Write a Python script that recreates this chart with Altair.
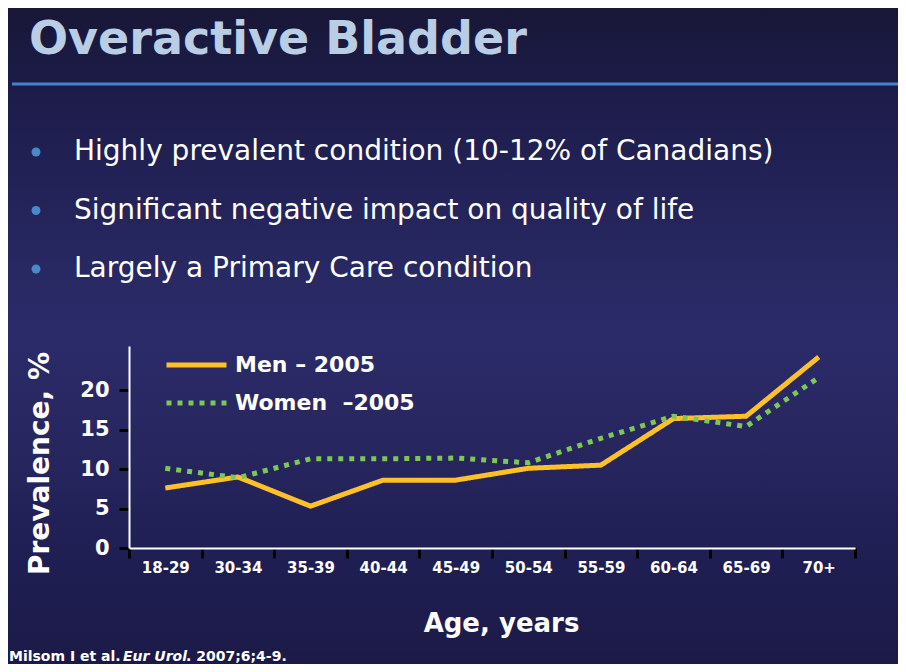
import altair as alt
import pandas as pd

# ---------------- data ----------------
ages = ["18-29", "30-34", "35-39", "40-44", "45-49", "50-54", "55-59", "60-64", "65-69", "70+"]
men = [7.6, 9.0, 5.3, 8.6, 8.6, 10.1, 10.5, 16.4, 16.7, 24.2]
women = [10.1, 8.9, 11.3, 11.3, 11.4, 10.8, 13.9, 16.7, 15.4, 21.6]
series = ["Men \u2013 2005", "Women\u00a0 \u20132005"]
series_colors = ["#FFC028", "#7DC855"]
series_dash = [[1, 0], [5, 6]]
y_ticks = [0, 5, 10, 15, 20]

slide_title = "Overactive Bladder"
bullets = [
    "Highly prevalent condition (10-12% of Canadians)",
    "Significant negative impact on quality of life",
    "Largely a Primary Care condition",
]
cite_parts = ["Milsom I et al. ", "Eur Urol", ". 2007;6;4-9."]

df = pd.DataFrame(
    {
        "age": ages * 2,
        "value": men + women,
        "series": [series[0]] * len(ages) + [series[1]] * len(ages),
    }
)

FONT = "DejaVu Sans"

# ---------------- background gradient (slide) ----------------
bg_gradient = {
    "gradient": "linear",
    "x1": 0, "y1": 0, "x2": 0, "y2": 1,
    "stops": [
        {"offset": 0.0, "color": "#181737"},
        {"offset": 0.14, "color": "#1d1c4b"},
        {"offset": 0.35, "color": "#26265e"},
        {"offset": 0.50, "color": "#2b2b6a"},
        {"offset": 0.66, "color": "#27265f"},
        {"offset": 0.85, "color": "#1f1e52"},
        {"offset": 1.0, "color": "#1b1a47"},
    ],
}
bg_layer = (
    alt.Chart(pd.DataFrame({"k": [0]}))
    .mark_rect(color=bg_gradient, strokeWidth=0)
    .encode(x=alt.value(-121), x2=alt.value(769), y=alt.value(-338), y2=alt.value(318))
)

# ---------------- main line chart ----------------
lines = (
    alt.Chart(df)
    .mark_line(strokeWidth=5, strokeCap="butt", strokeJoin="miter")
    .encode(
        x=alt.X(
            "age:N",
            sort=ages,
            scale=alt.Scale(type="band", paddingInner=0, paddingOuter=0),
            axis=alt.Axis(
                title="Age, years",
                labelAngle=0,
                tickBand="extent",
                zindex=2,
                titleX=372,
                titleY=75,
                titleBaseline="middle",
                titleAlign="center",
                titleFontSize=26,
                labelFontSize=15,
                labelPadding=2,
            ),
        ),
        y=alt.Y(
            "value:Q",
            scale=alt.Scale(domain=[0, 25.6], nice=False, zero=True),
            axis=alt.Axis(
                title="Prevalence,  %",
                values=y_ticks,
                zindex=2,
                titleAngle=270,
                titleX=-89,
                titleY=117,
                titleAlign="center",
                titleBaseline="middle",
                titleFontSize=28,
                labelFontSize=21,
                labelPadding=10,
            ),
        ),
        color=alt.Color(
            "series:N",
            sort=series,
            scale=alt.Scale(domain=series, range=series_colors),
            legend=alt.Legend(
                title=None,
                orient="none",
                legendX=35,
                legendY=4,
                symbolType="stroke",
                symbolSize=3600,
                symbolStrokeWidth=5,
                labelFontSize=22,
                labelFont=FONT,
                labelFontWeight="bold",
                labelColor="white",
                labelOffset=6,
                clipHeight=30,
                rowPadding=8,
                labelLimit=400,
            ),
        ),
        strokeDash=alt.StrokeDash(
            "series:N",
            sort=series,
            scale=alt.Scale(domain=series, range=series_dash),
            legend=alt.Legend(title=None),
        ),
    )
)

# ---------------- slide decorations ----------------
title_layer = (
    alt.Chart(pd.DataFrame({"t": [slide_title]}))
    .mark_text(align="left", baseline="alphabetic", font=FONT, fontSize=46,
               fontWeight="bold", color="#B9CDE5")
    .encode(x=alt.value(-100), y=alt.value(-292), text="t:N")
)

rule_layer = (
    alt.Chart(pd.DataFrame({"k": [0]}))
    .mark_rule(color="#4382CC", strokeWidth=3)
    .encode(x=alt.value(-117), x2=alt.value(777), y=alt.value(-262))
)

bullet_layers = []
for i, b in enumerate(bullets):
    row_y = -186 + i * 58.5
    bullet_layers.append(
        alt.Chart(pd.DataFrame({"t": [b]}))
        .mark_point(shape="circle", filled=True, size=80, color="#4A88CC", opacity=1)
        .encode(x=alt.value(-93), y=alt.value(row_y - 8))
    )
    bullet_layers.append(
        alt.Chart(pd.DataFrame({"t": [b]}))
        .mark_text(align="left", baseline="alphabetic", font=FONT, fontSize=28, color="white")
        .encode(x=alt.value(-55), y=alt.value(row_y), text="t:N")
    )

cite_x = [-120, -6, 57]
cite_style = ["normal", "italic", "normal"]
cite_layers = []
for part, cx, st in zip(cite_parts, cite_x, cite_style):
    cite_layers.append(
        alt.Chart(pd.DataFrame({"t": [part]}))
        .mark_text(align="left", baseline="alphabetic", font=FONT, fontSize=14,
                   fontWeight="bold", fontStyle=st, color="white")
        .encode(x=alt.value(cx), y=alt.value(315), text="t:N")
    )

chart = (
    alt.layer(bg_layer, lines, title_layer, rule_layer, *bullet_layers, *cite_layers)
    .properties(
        width=726,
        height=202,
        autosize=alt.AutoSizeParams(type="none"),
        padding={"left": 121, "top": 338, "right": 43, "bottom": 116},
        background="#1b1a47",
    )
    .configure_view(stroke=None)
    .configure_axis(
        grid=False,
        domainColor="white",
        domainWidth=2,
        tickColor="black",
        tickWidth=3,
        tickSize=10,
        labelColor="white",
        labelFont=FONT,
        labelFontWeight="bold",
        titleColor="white",
        titleFont=FONT,
        titleFontWeight="bold",
    )
)

chart.save("out.html", embed_options={"renderer": "svg", "actions": False})
